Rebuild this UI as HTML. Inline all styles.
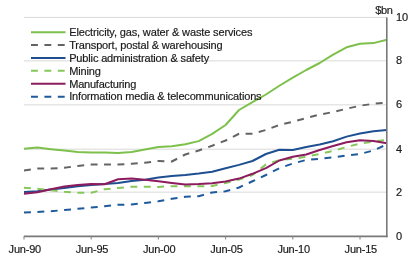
<!DOCTYPE html>
<html><head><meta charset="utf-8"><style>
html,body{margin:0;padding:0;background:#fff;}
svg{display:block;will-change:transform;font-family:"Liberation Sans",sans-serif;font-size:11px;fill:#1a1a1a;}
text{stroke:#1a1a1a;stroke-width:0.18px;}
</style></head><body>
<svg width="416" height="264" viewBox="0 0 416 264">
<line x1="24" x2="387" y1="17.4" y2="17.4" stroke="#d9d9d9" stroke-width="1"/><line x1="24" x2="387" y1="60.85" y2="60.85" stroke="#d9d9d9" stroke-width="1"/><line x1="24" x2="387" y1="104.85" y2="104.85" stroke="#d9d9d9" stroke-width="1"/><line x1="24" x2="387" y1="149.2" y2="149.2" stroke="#d9d9d9" stroke-width="1"/><line x1="24" x2="387" y1="192.15" y2="192.15" stroke="#d9d9d9" stroke-width="1"/>
<polyline points="24.00,148.70 37.44,147.50 50.88,149.20 64.32,150.60 77.76,151.90 91.20,152.40 104.64,152.60 118.08,153.00 131.52,152.00 144.96,149.60 158.40,147.10 171.84,146.20 185.28,144.25 198.72,141.10 212.16,133.80 225.60,125.00 239.04,110.00 252.48,102.20 265.92,94.50 279.36,85.75 292.80,77.60 306.24,70.00 319.68,63.00 333.12,54.60 346.56,47.30 360.00,43.75 373.44,43.10 386.88,39.75" fill="none" stroke="#7dc04b" stroke-width="2" stroke-linejoin="round"/><polyline points="24.00,170.40 37.44,168.60 50.88,168.50 64.32,167.80 77.76,165.90 91.20,164.60 104.64,164.60 118.08,164.60 131.52,163.75 144.96,162.75 158.40,161.00 171.84,161.50 185.28,154.50 198.72,150.50 212.16,145.75 225.60,140.50 239.04,133.75 252.48,133.75 265.92,130.00 279.36,125.00 292.80,121.75 306.24,118.00 319.68,114.60 333.12,112.00 346.56,108.75 360.00,105.75 373.44,103.75 386.88,102.50" fill="none" stroke="#646464" stroke-width="2" stroke-linejoin="round" stroke-dasharray="6.9 6.5"/><polyline points="24.00,192.00 37.44,191.25 50.88,189.50 64.32,188.00 77.76,186.30 91.20,185.00 104.64,184.00 118.08,183.00 131.52,181.00 144.96,179.75 158.40,177.50 171.84,176.00 185.28,175.00 198.72,173.60 212.16,171.80 225.60,168.20 239.04,164.90 252.48,161.00 265.92,154.00 279.36,149.75 292.80,150.00 306.24,147.00 319.68,144.50 333.12,141.25 346.56,136.60 360.00,133.50 373.44,131.25 386.88,130.00" fill="none" stroke="#1e4f91" stroke-width="2" stroke-linejoin="round"/><polyline points="24.00,187.70 37.44,188.80 50.88,190.30 64.32,191.70 77.76,192.75 91.20,192.75 104.64,189.25 118.08,187.90 131.52,186.75 144.96,186.75 158.40,186.90 171.84,186.20 185.28,186.30 198.72,186.30 212.16,186.00 225.60,183.00 239.04,179.50 252.48,175.00 265.92,164.50 279.36,160.00 292.80,158.80 306.24,156.70 319.68,154.00 333.12,151.00 346.56,147.00 360.00,143.50 373.44,141.50 386.88,139.75" fill="none" stroke="#86c75a" stroke-width="2" stroke-linejoin="round" stroke-dasharray="6.9 6.5"/><polyline points="24.00,193.75 37.44,192.25 50.88,189.30 64.32,186.50 77.76,185.00 91.20,184.00 104.64,184.25 118.08,179.20 131.52,178.50 144.96,179.75 158.40,181.25 171.84,183.00 185.28,184.50 198.72,184.00 212.16,183.20 225.60,181.60 239.04,178.60 252.48,173.80 265.92,168.20 279.36,160.50 292.80,156.75 306.24,154.50 319.68,150.00 333.12,146.00 346.56,142.30 360.00,140.20 373.44,141.00 386.88,143.30" fill="none" stroke="#8c1c5e" stroke-width="2" stroke-linejoin="round"/><polyline points="24.00,212.50 37.44,212.00 50.88,211.25 64.32,210.00 77.76,208.75 91.20,207.50 104.64,206.25 118.08,204.75 131.52,204.50 144.96,203.00 158.40,201.25 171.84,198.75 185.28,196.75 198.72,196.25 212.16,192.50 225.60,191.25 239.04,187.50 252.48,181.25 265.92,175.00 279.36,168.20 292.80,163.50 306.24,160.00 319.68,158.80 333.12,157.40 346.56,155.50 360.00,154.00 373.44,150.50 386.88,144.30" fill="none" stroke="#1e5a9c" stroke-width="2" stroke-linejoin="round" stroke-dasharray="6.9 6.5"/>
<line x1="31" x2="65.5" y1="32.15" y2="32.15" stroke="#7dc04b" stroke-width="2"/><text x="69.2" y="36.15" style="letter-spacing:-0.14px">Electricity, gas, water &amp; waste services</text><line x1="31" x2="65.5" y1="45.05" y2="45.05" stroke="#646464" stroke-width="2" stroke-dasharray="6.9 6.5"/><text x="69.2" y="49.01" style="letter-spacing:-0.15px">Transport, postal &amp; warehousing</text><line x1="31" x2="65.5" y1="57.95" y2="57.95" stroke="#1e4f91" stroke-width="2"/><text x="69.2" y="61.87" style="letter-spacing:-0.15px">Public administration &amp; safety</text><line x1="31" x2="65.5" y1="70.85" y2="70.85" stroke="#86c75a" stroke-width="2" stroke-dasharray="6.9 6.5"/><text x="69.2" y="74.73" style="letter-spacing:-0.135px">Mining</text><line x1="31" x2="65.5" y1="83.75" y2="83.75" stroke="#8c1c5e" stroke-width="2"/><text x="69.2" y="87.59" style="letter-spacing:-0.21px">Manufacturing</text><line x1="31" x2="65.5" y1="96.65" y2="96.65" stroke="#1e5a9c" stroke-width="2" stroke-dasharray="6.9 6.5"/><text x="69.2" y="100.45" style="letter-spacing:-0.17px">Information media &amp; telecommunications</text>
<line x1="24" x2="387.6" y1="236.4" y2="236.4" stroke="#787878" stroke-width="1.6"/>
<line x1="386.8" x2="386.8" y1="17.4" y2="237.2" stroke="#787878" stroke-width="1.6"/>
<line x1="24.00" x2="24.00" y1="236" y2="239.5" stroke="#808080" stroke-width="1"/><line x1="91.20" x2="91.20" y1="236" y2="239.5" stroke="#808080" stroke-width="1"/><line x1="158.40" x2="158.40" y1="236" y2="239.5" stroke="#808080" stroke-width="1"/><line x1="225.60" x2="225.60" y1="236" y2="239.5" stroke="#808080" stroke-width="1"/><line x1="292.80" x2="292.80" y1="236" y2="239.5" stroke="#808080" stroke-width="1"/><line x1="360.00" x2="360.00" y1="236" y2="239.5" stroke="#808080" stroke-width="1"/>
<g style="letter-spacing:-0.2px"><text x="24.80" y="253.2" text-anchor="middle">Jun-90</text><text x="92.00" y="253.2" text-anchor="middle">Jun-95</text><text x="159.20" y="253.2" text-anchor="middle">Jun-00</text><text x="226.40" y="253.2" text-anchor="middle">Jun-05</text><text x="293.60" y="253.2" text-anchor="middle">Jun-10</text><text x="360.80" y="253.2" text-anchor="middle">Jun-15</text></g>
<text x="396" y="21.00">10</text><text x="396" y="64.45">8</text><text x="396" y="108.45">6</text><text x="396" y="152.80">4</text><text x="396" y="195.75">2</text><text x="396" y="240.00">0</text>
<text x="392.6" y="14" text-anchor="end" style="letter-spacing:-0.35px">$bn</text>
</svg>
</body></html>
